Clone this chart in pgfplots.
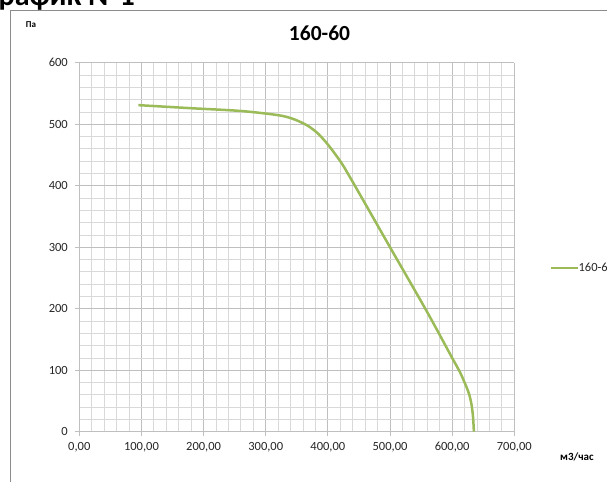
\documentclass[border=0pt]{standalone}
\usepackage{pgfplots}
\pgfplotsset{compat=1.18}
\usepackage{fontspec}
\setmainfont{Carlito}
\definecolor{curve}{HTML}{9BBB59}
\definecolor{majgrid}{HTML}{BFBFBF}
\definecolor{mingrid}{HTML}{D9D9D9}
\definecolor{frame}{HTML}{8C8C8C}
\begin{document}
\begin{tikzpicture}
\begin{axis}[
  at={(79.3bp,50.3bp)}, anchor=south west,
  scale only axis, width=435bp, height=369bp,
  xmin=0, xmax=700, ymin=0, ymax=600,
  xtick={0,100,...,700}, ytick={0,100,...,600},
  minor xtick={20,40,...,680}, minor ytick={20,40,...,580},
  grid=both,
  major grid style={majgrid, line width=0.75bp},
  minor grid style={mingrid, line width=0.75bp},
  axis x line=bottom, axis y line=left,
  axis line style={majgrid, line width=0.75bp, -},
  x axis line style={-}, y axis line style={-},
  tick style={majgrid, line width=0.75bp},
  major tick length=4bp, minor tick length=0pt,
  tick align=outside,
  xtick pos=bottom, ytick pos=left,
  tick label style={font=\fontsize{12.5bp}{14bp}\selectfont, text=black!85},
  /pgf/number format/assume math mode=true,
  xticklabel={\pgfmathprintnumber[fixed, fixed zerofill, precision=2, use comma]{\tick}},
  yticklabel={\pgfmathprintnumber[fixed, precision=0]{\tick}},
  xticklabel style={yshift=-3bp},
  yticklabel style={xshift=-4bp},
  legend style={at={(1.082,0.443)}, anchor=west, draw=none, fill=none,
    inner sep=0pt, font=\fontsize{12.5bp}{14bp}\selectfont, text=black!85,
    /tikz/every even column/.append style={column sep=0pt}},
  legend image code/.code={\draw[#1, line width=2.5bp] (0bp,0bp) -- (27bp,0bp);},
  legend cell align=left,
]
\addplot[curve, line width=2.5bp, smooth, tension=0.5] coordinates {
  (95,531) (180,526) (260,521.5) (318,515) (340,510) (355,504) (370,496)
  (385,484) (400,467) (412,451) (425,432) (452,385) (500,300) (559,196)
  (600,120) (612,98) (620,80) (627,62) (631,45) (633.5,25) (635,0)
};
\addlegendentry{\hspace{-3bp}160-60}
\end{axis}
\draw[frame, line width=0.75bp] (10.5bp,0bp) -- (10.5bp,472bp) -- (607bp,472bp);
\node[font=\bfseries\fontsize{21.5bp}{24bp}\selectfont, inner sep=0pt] at (319.5bp,448.5bp) {160-60};
\node[font=\bfseries\fontsize{9bp}{10bp}\selectfont, inner sep=0pt] at (31bp,457.5bp) {Па};
\node[font=\bfseries\fontsize{11bp}{12bp}\selectfont, inner sep=0pt] at (577bp,25bp) {м3/час};
\node[font=\bfseries\fontsize{30bp}{32bp}\selectfont, inner sep=0pt, anchor=base east] at (135bp,476bp) {График №1};
\pgfresetboundingbox
\useasboundingbox (0bp,0bp) rectangle (607bp,482bp);
\end{tikzpicture}
\end{document}
